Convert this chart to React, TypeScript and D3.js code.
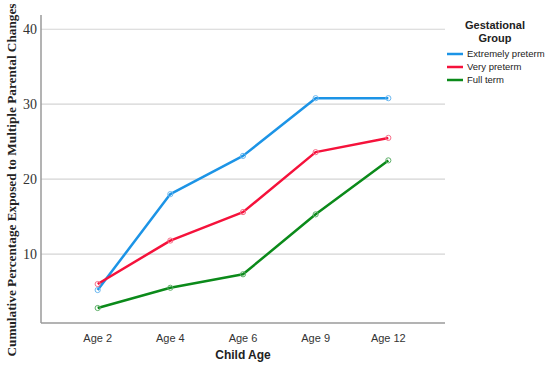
import React from 'react';
import * as d3 from 'd3';

const ages = ['Age 2', 'Age 4', 'Age 6', 'Age 9', 'Age 12'];
const extremelyPreterm = [5.2, 18.0, 23.1, 30.8, 30.8];
const veryPreterm = [6.0, 11.8, 15.6, 23.6, 25.5];
const fullTerm = [2.8, 5.5, 7.3, 15.3, 22.5];
const yTicks = [10, 20, 30, 40];

const series = [
    { name: 'Extremely preterm', values: extremelyPreterm, color: '#1c94e6', marker: '#6cb8f0' },
    { name: 'Very preterm', values: veryPreterm, color: '#f5123b', marker: '#f7708a' },
    { name: 'Full term', values: fullTerm, color: '#0b8a1a', marker: '#5fb06a' },
];

const App = () => {
    const width = 550, height = 370;
    const left = 41, right = 445, top = 15, bottom = 323;

    const x = d3.scalePoint<string>()
        .domain(ages)
        .range([left, right])
        .padding(0.78);

    const y = d3.scaleLinear()
        .domain([0.8, 41.9])
        .range([bottom, top]);

    const line = d3.line<number>()
        .x((d, i) => x(ages[i]) as number)
        .y(d => y(d));

    return (
        <svg width={width} height={height} style={{ position: 'absolute', left: 0, top: 0, background: '#fff' }}>
            {yTicks.map(t => (
                <g key={t}>
                    <line x1={left} x2={right} y1={y(t)} y2={y(t)} stroke="#d4d4d4" strokeWidth={1.2} />
                    <text x={left - 4} y={y(t)} dy="0.35em" textAnchor="end"
                        fontFamily="'Liberation Serif', serif" fontSize={14} fill="#333">{t}</text>
                </g>
            ))}
            <line x1={left} x2={left} y1={top} y2={bottom} stroke="#9a9a9a" strokeWidth={1.5} />
            <line x1={left} x2={right} y1={bottom} y2={bottom} stroke="#9a9a9a" strokeWidth={1.5} />

            {ages.map(a => (
                <text key={a} x={x(a)} y={bottom + 15} dy="0.35em" textAnchor="middle"
                    fontFamily="'Liberation Sans', Arial, sans-serif" fontSize={11} fill="#333">{a}</text>
            ))}
            <text x={243} y={359} textAnchor="middle" fontFamily="'Liberation Sans', Arial, sans-serif"
                fontSize={12} fontWeight="bold" fill="#222">Child Age</text>

            <text transform="translate(16,180) rotate(-90)" textAnchor="middle"
                fontFamily="'Liberation Serif', serif" fontSize={13} fontWeight="bold" fill="#222"
                textLength={353} lengthAdjust="spacingAndGlyphs">
                Cumulative Percentage Exposed to Multiple Parental Changes
            </text>

            {series.map(s => (
                <g key={s.name}>
                    <path d={line(s.values) || ''} fill="none" stroke={s.color} strokeWidth={2.5} strokeLinejoin="round" />
                    {s.values.map((v, i) => (
                        <circle key={i} cx={x(ages[i])} cy={y(v)} r={2.6} fill="none" stroke={s.marker} strokeWidth={1} />
                    ))}
                </g>
            ))}

            <text x={495} y={29} textAnchor="middle" fontFamily="'Liberation Sans', Arial, sans-serif"
                fontSize={11} fontWeight="bold" fill="#222">
                <tspan x={495}>Gestational</tspan>
                <tspan x={495} dy={13}>Group</tspan>
            </text>
            {series.map((s, i) => (
                <g key={s.name} transform={`translate(447,${54 + i * 13})`}>
                    <line x1={0} x2={16} y1={0} y2={0} stroke={s.color} strokeWidth={2.5} />
                    <text x={20} y={0} dy="0.35em" fontFamily="'Liberation Sans', Arial, sans-serif"
                        fontSize={9.5} fill="#222">{s.name}</text>
                </g>
            ))}
        </svg>
    );
};

export default App;
